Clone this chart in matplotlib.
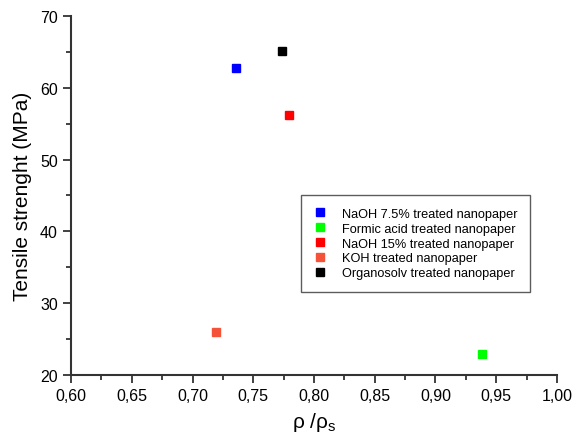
import matplotlib
matplotlib.use("Agg")
import matplotlib.pyplot as plt
from matplotlib.ticker import MultipleLocator, FuncFormatter

plt.rcParams['font.family'] = ['Liberation Sans', 'DejaVu Sans']

labels = ["NaOH 7.5% treated nanopaper",
          "Formic acid treated nanopaper",
          "NaOH 15% treated nanopaper",
          "KOH treated nanopaper",
          "Organosolv treated nanopaper"]
rel_density = [0.736, 0.9385, 0.7795, 0.7195, 0.7735]
tensile = [62.7, 22.9, 56.2, 26.0, 65.1]
colors = ["#0000FF", "#00FF00", "#FF0000", "#F4533A", "#000000"]

fig = plt.figure(figsize=(5.73, 4.35), dpi=100)
ax = fig.add_axes([0.124, 0.1356, 0.848, 0.8254])

for x, y, c, lab in zip(rel_density, tensile, colors, labels):
    ax.plot([x], [y], linestyle="none", marker="s", markersize=6,
            color=c, markeredgecolor=c, label=lab)

ax.set_xlim(0.60, 1.00)
ax.set_ylim(20, 70)
ax.xaxis.set_major_locator(MultipleLocator(0.05))
ax.xaxis.set_minor_locator(MultipleLocator(0.025))
ax.yaxis.set_major_locator(MultipleLocator(10))
ax.yaxis.set_minor_locator(MultipleLocator(5))
ax.xaxis.set_major_formatter(FuncFormatter(lambda v, p: ("%.2f" % v).replace(".", ",")))

for s in ["top", "right"]:
    ax.spines[s].set_visible(False)
for s in ["left", "bottom"]:
    ax.spines[s].set_linewidth(1.5)
    ax.spines[s].set_color("#333333")

ax.tick_params(which="major", direction="out", length=6, width=1.3,
               labelsize=11.5, color="#333333")
ax.tick_params(which="minor", direction="out", length=3.5, width=1.3,
               color="#333333")

ax.set_xlabel(r"ρ /ρ$_\mathregular{s}$", fontsize=15, labelpad=5)
ax.set_ylabel("Tensile strenght (MPa)", fontsize=15, labelpad=6)

leg = ax.legend(loc="upper left", bbox_to_anchor=(0.473, 0.501),
                borderaxespad=0, fontsize=9.2, frameon=True, fancybox=False,
                edgecolor="#333333", handlelength=1.0, handletextpad=1.2,
                borderpad=1.0, labelspacing=0.22, markerscale=0.9)
leg.get_frame().set_linewidth(1.0)

fig.savefig("out.png", dpi=100)
